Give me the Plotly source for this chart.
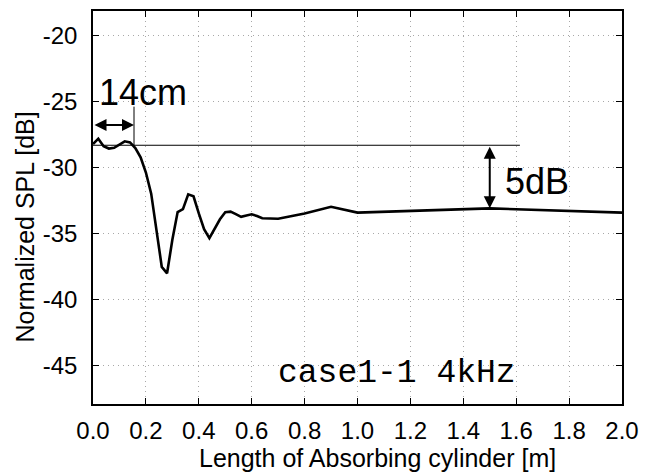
import plotly.graph_objects as go

# ---- data ----
length_m = [0.00, 0.02, 0.04, 0.06, 0.08, 0.10, 0.12, 0.14, 0.16, 0.18,
            0.20, 0.22, 0.24, 0.26, 0.28, 0.30, 0.32, 0.34, 0.36, 0.38,
            0.40, 0.42, 0.44, 0.46, 0.48, 0.50, 0.52, 0.54, 0.56, 0.58,
            0.60, 0.62, 0.64, 0.70, 0.80, 0.90, 1.00, 1.50, 2.00]
spl_db = [-28.24, -27.83, -28.40, -28.58, -28.52, -28.30, -28.03, -28.12, -28.55, -29.25,
          -30.40, -32.00, -34.80, -37.55, -38.04, -35.50, -33.40, -33.18, -32.05, -32.20,
          -33.50, -34.70, -35.37, -34.65, -33.94, -33.40, -33.36, -33.55, -33.76, -33.65,
          -33.56, -33.70, -33.86, -33.90, -33.50, -33.00, -33.44, -33.12, -33.44]

x_ticks = [0.0, 0.2, 0.4, 0.6, 0.8, 1.0, 1.2, 1.4, 1.6, 1.8, 2.0]
x_tick_labels = ["0.0", "0.2", "0.4", "0.6", "0.8", "1.0", "1.2", "1.4", "1.6", "1.8", "2.0"]
y_ticks = [-45, -40, -35, -30, -25, -20]
y_tick_labels = ["-45", "-40", "-35", "-30", "-25", "-20"]

ref_level = -28.33          # horizontal reference line
ref_line_end = 1.614
span_14cm = 0.155
span_14cm_top = -25.4
arrow_14cm_y = -26.8
arrow_5db_x = 1.5
arrow_5db_bottom = -33.1

fig = go.Figure()
fig.add_trace(go.Scatter(x=length_m, y=spl_db, mode="lines",
                         line=dict(color="black", width=2.6), showlegend=False))

# reference lines
fig.add_shape(type="line", x0=0, x1=ref_line_end, y0=ref_level, y1=ref_level,
              line=dict(color="black", width=1))
fig.add_shape(type="line", x0=span_14cm, x1=span_14cm, y0=ref_level, y1=span_14cm_top,
              line=dict(color="black", width=1))

# arrows
fig.add_annotation(x=span_14cm, y=arrow_14cm_y, ax=0, ay=arrow_14cm_y,
                   xref="x", yref="y", axref="x", ayref="y", text="",
                   showarrow=True, arrowhead=2, startarrowhead=2, arrowside="end+start",
                   arrowsize=1.2, startarrowsize=1.2, arrowwidth=2, arrowcolor="black",
                   standoff=0, startstandoff=0)
fig.add_annotation(x=arrow_5db_x, y=arrow_5db_bottom, ax=arrow_5db_x, ay=ref_level,
                   xref="x", yref="y", axref="x", ayref="y", text="",
                   showarrow=True, arrowhead=2, startarrowhead=2, arrowside="end+start",
                   arrowsize=1.2, startarrowsize=1.2, arrowwidth=2, arrowcolor="black",
                   standoff=0, startstandoff=0)

# labels
fig.add_annotation(x=0.19, y=-24.3, xref="x", yref="y", text="14cm", showarrow=False,
                   xanchor="center", yanchor="middle",
                   font=dict(family="Liberation Sans, Arial", size=36, color="black"))
fig.add_annotation(x=1.679, y=-31.1, xref="x", yref="y", text="5dB", showarrow=False,
                   xanchor="center", yanchor="middle",
                   font=dict(family="Liberation Sans, Arial", size=36, color="black"))
fig.add_annotation(x=1.15, y=-45.6, xref="x", yref="y", text="case1-1 4kHz", showarrow=False,
                   xanchor="center", yanchor="middle",
                   font=dict(family="Liberation Mono, Courier New, monospace", size=33, color="black"))

# axis titles (placed like the reference, slightly off-centre)
fig.add_annotation(x=0.537, y=-0.137, xref="paper", yref="paper",
                   text="Length of Absorbing cylinder [m]", showarrow=False,
                   xanchor="center", yanchor="middle",
                   font=dict(family="Liberation Sans, Arial", size=25, color="black"))
fig.add_annotation(x=-0.128, y=0.45, xref="paper", yref="paper",
                   text="Normalized SPL [dB]", showarrow=False, textangle=-90,
                   xanchor="center", yanchor="middle",
                   font=dict(family="Liberation Sans, Arial", size=25, color="black"))

axis_common = dict(showline=True, linecolor="black", linewidth=1.5, mirror="ticks",
                   ticks="inside", ticklen=6, tickwidth=1.2, tickcolor="black",
                   showgrid=True, gridcolor="#a8a8a8", griddash="1px,4px", gridwidth=1,
                   zeroline=False,
                   tickfont=dict(family="Liberation Sans, Arial", size=24, color="black"))

fig.update_xaxes(range=[0, 2], tickvals=x_ticks, ticktext=x_tick_labels,
                 ticklabelstandoff=4, **axis_common)
fig.update_yaxes(range=[-47.95, -18.15], tickvals=y_ticks, ticktext=y_tick_labels,
                 ticklabelstandoff=9, **axis_common)

fig.update_layout(width=653, height=474, margin=dict(l=85, r=39, t=1, b=78),
                  plot_bgcolor="white", paper_bgcolor="white")

fig.write_html("out.html")
